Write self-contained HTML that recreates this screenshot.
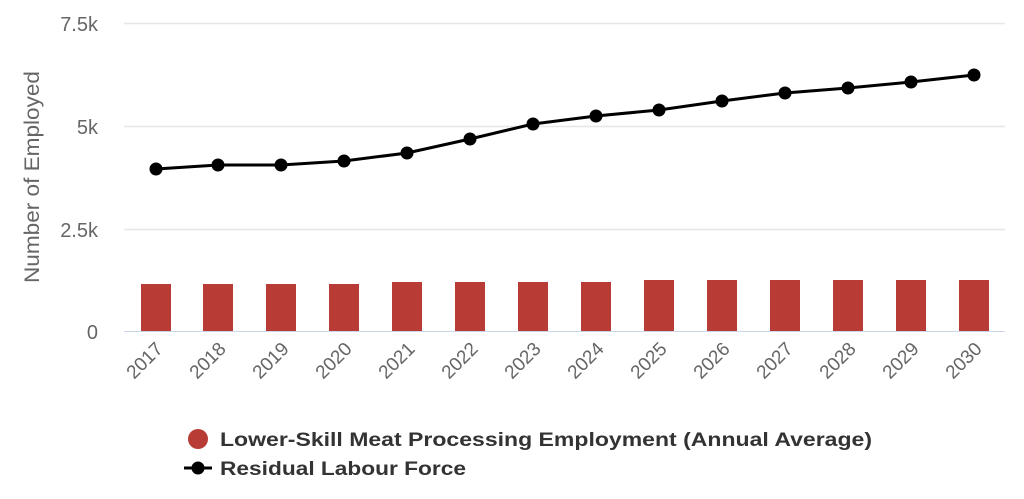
<!DOCTYPE html>
<html><head><style>
html,body{margin:0;padding:0;background:#fff;}
svg{display:block;font-family:"Liberation Sans",sans-serif;}
</style></head><body>
<svg width="1024" height="499" viewBox="0 0 1024 499">
<g stroke="#e6e6e6" stroke-width="1.5">
<line x1="124" y1="23.5" x2="1005" y2="23.5"/>
<line x1="124" y1="126.5" x2="1005" y2="126.5"/>
<line x1="124" y1="229.5" x2="1005" y2="229.5"/>
</g>
<line x1="124" y1="331.5" x2="1005" y2="331.5" stroke="#ccd6eb" stroke-width="1"/>
<g fill="#666" font-size="20" text-anchor="end">
<text x="98" y="31">7.5k</text>
<text x="98" y="134">5k</text>
<text x="98" y="237">2.5k</text>
<text x="98" y="339">0</text>
</g>
<text transform="translate(39,177) rotate(-90)" text-anchor="middle" fill="#666" font-size="21" textLength="212" lengthAdjust="spacingAndGlyphs">Number of Employed</text>
<g fill="#b83b36">
<rect x="141" y="284" width="30" height="47"/>
<rect x="203" y="284" width="30" height="47"/>
<rect x="266" y="284" width="30" height="47"/>
<rect x="329" y="284" width="30" height="47"/>
<rect x="392" y="282" width="30" height="49"/>
<rect x="455" y="282" width="30" height="49"/>
<rect x="518" y="282" width="30" height="49"/>
<rect x="581" y="282" width="30" height="49"/>
<rect x="644" y="280" width="30" height="51"/>
<rect x="707" y="280" width="30" height="51"/>
<rect x="770" y="280" width="30" height="51"/>
<rect x="833" y="280" width="30" height="51"/>
<rect x="896" y="280" width="30" height="51"/>
<rect x="959" y="280" width="30" height="51"/>
</g>
<polyline fill="none" stroke="#000" stroke-width="3" points="156,169 218,165 281,165 344,161 407,153 470,139 533,124 596,116 659,110 722,101 785,93 848,88 911,82 974,75"/>
<g fill="#000">
<circle cx="156" cy="169" r="6.5"/><circle cx="218" cy="165" r="6.5"/><circle cx="281" cy="165" r="6.5"/><circle cx="344" cy="161" r="6.5"/><circle cx="407" cy="153" r="6.5"/><circle cx="470" cy="139" r="6.5"/><circle cx="533" cy="124" r="6.5"/><circle cx="596" cy="116" r="6.5"/><circle cx="659" cy="110" r="6.5"/><circle cx="722" cy="101" r="6.5"/><circle cx="785" cy="93" r="6.5"/><circle cx="848" cy="88" r="6.5"/><circle cx="911" cy="82" r="6.5"/><circle cx="974" cy="75" r="6.5"/>
</g>
<g fill="#666" font-size="19" text-anchor="end">
<text transform="translate(164,350) rotate(-45)">2017</text>
<text transform="translate(227,350) rotate(-45)">2018</text>
<text transform="translate(290,350) rotate(-45)">2019</text>
<text transform="translate(353,350) rotate(-45)">2020</text>
<text transform="translate(416,350) rotate(-45)">2021</text>
<text transform="translate(479,350) rotate(-45)">2022</text>
<text transform="translate(542,350) rotate(-45)">2023</text>
<text transform="translate(605,350) rotate(-45)">2024</text>
<text transform="translate(668,350) rotate(-45)">2025</text>
<text transform="translate(731,350) rotate(-45)">2026</text>
<text transform="translate(794,350) rotate(-45)">2027</text>
<text transform="translate(857,350) rotate(-45)">2028</text>
<text transform="translate(920,350) rotate(-45)">2029</text>
<text transform="translate(983,350) rotate(-45)">2030</text>
</g>
<circle cx="198" cy="439" r="10" fill="#b83b36"/>
<text x="220" y="446" font-size="19" font-weight="bold" fill="#333" textLength="652" lengthAdjust="spacingAndGlyphs">Lower-Skill Meat Processing Employment (Annual Average)</text>
<line x1="184" y1="468" x2="212" y2="468" stroke="#000" stroke-width="3"/>
<circle cx="198" cy="468" r="6.5" fill="#000"/>
<text x="220" y="475" font-size="19" font-weight="bold" fill="#333" textLength="246" lengthAdjust="spacingAndGlyphs">Residual Labour Force</text>
</svg>
</body></html>
